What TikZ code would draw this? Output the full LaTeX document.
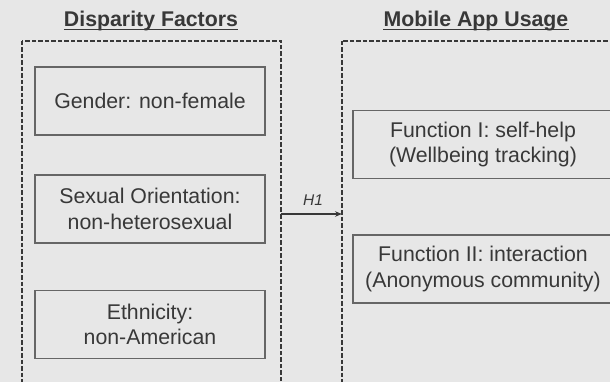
\documentclass[tikz,border=0pt]{standalone}
\usepackage{fontspec}
\setmainfont{Liberation Sans}
\usetikzlibrary{arrows.meta}
\definecolor{bg}{HTML}{E7E7E7}
\definecolor{ink}{HTML}{383838}
\definecolor{boxline}{HTML}{666666}
\tikzset{
  title/.style={inner sep=0pt, anchor=base, text=ink, font=\fontsize{21.3}{25}\selectfont\bfseries},
  group/.style={draw=ink, line width=1.6pt, dash pattern=on 4.5pt off 2pt},
  factor/.style={draw=boxline, line width=1.5pt, minimum width=230pt, minimum height=68pt,
    align=center, text=ink, font=\fontsize{21.3}{25.6}\selectfont, inner sep=0pt},
  usage/.style={factor, minimum width=260pt},
  link/.style={draw=ink, line width=1.4pt, -{Stealth[length=7pt,width=5.5pt]}},
}
\begin{document}
\begin{tikzpicture}[x=1pt,y=-1pt]
  \fill[bg] (0,0) rectangle (610,382);
  \useasboundingbox (0,0) rectangle (610,382);

  % column headings, underlined
  \node[title] (tl) at (151,27) {Disparity Factors};
  \node[title] (tr) at (476,27) {Mobile App Usage};
  \draw[ink, line width=1.4pt] ([yshift=-2.6pt]tl.base west) -- ([yshift=-2.6pt]tl.base east);
  \draw[ink, line width=1.4pt] ([yshift=-2.6pt]tr.base west) -- ([yshift=-2.6pt]tr.base east);

  % dashed groups
  \draw[group] (22,41) rectangle (281,387);
  \draw[group] (342,41) rectangle (626,387);

  % disparity factors
  \node[factor] (gender) at (150,101) {Gender: non-female};
  \node[factor] (sexual) at (150,209) {Sexual Orientation:\\non-heterosexual};
  \node[factor] (ethnic) at (150,324.5) {Ethnicity:\\non-American};

  % app functions
  \node[usage] (selfhelp) at (483,144.5) {Function I: self-help\\(Wellbeing tracking)};
  \node[usage] (interact) at (483,269) {Function II: interaction\\(Anonymous community)};

  % hypothesis link between the groups
  \coordinate (from) at (281,214);
  \coordinate (to) at (342,214);
  \draw[link] (from) -- (to);
  \node[inner sep=0pt, text=ink, font=\fontsize{15.5}{18}\selectfont\itshape] (h1) at (313,200.5) {H1};
\end{tikzpicture}
\end{document}
